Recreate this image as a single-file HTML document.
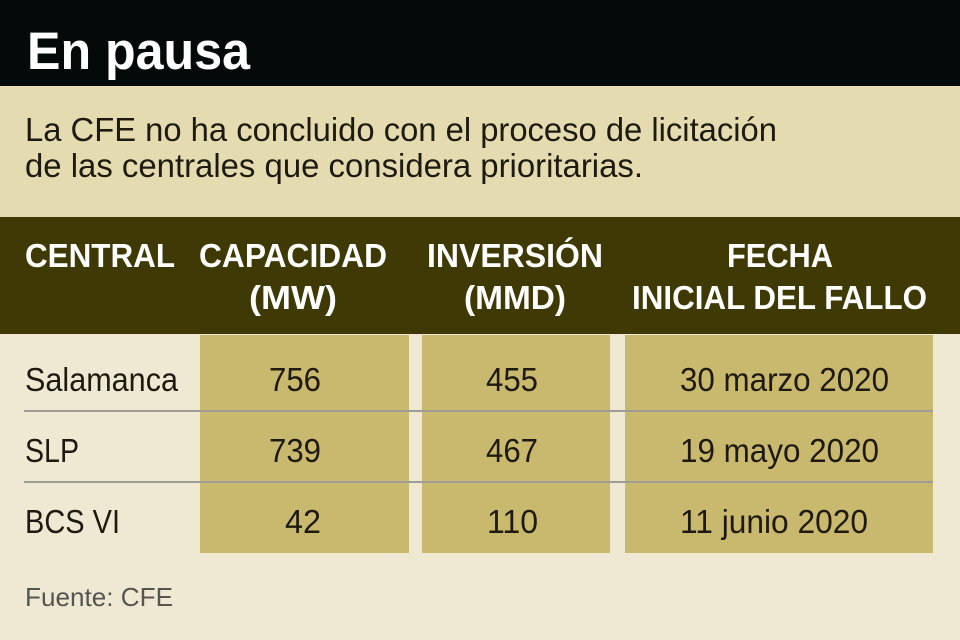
<!DOCTYPE html>
<html><head><meta charset="utf-8"><style>html,body{margin:0;padding:0;width:960px;height:640px;overflow:hidden;background:#efe9d4}</style></head>
<body>
<svg width="960" height="640" xmlns="http://www.w3.org/2000/svg" font-family="Liberation Sans, sans-serif">
<rect x="0" y="0" width="960" height="640" fill="#efe9d4"/>
<rect x="0" y="0" width="960" height="86" fill="#040a0a"/>
<rect x="0" y="86" width="960" height="131" fill="#e4dcb0"/>
<rect x="0" y="217" width="960" height="117" fill="#3f3a05"/>
<text x="27" y="69" font-size="53" font-weight="bold" fill="#fff" textLength="223" lengthAdjust="spacingAndGlyphs">En pausa</text>
<g fill="#1e1a10" font-size="33">
<text x="25" y="141" textLength="752" lengthAdjust="spacingAndGlyphs">La CFE no ha concluido con el proceso de licitación</text>
<text x="25" y="177" textLength="618" lengthAdjust="spacingAndGlyphs">de las centrales que considera prioritarias.</text>
</g>
<g fill="#fff" font-size="33" font-weight="bold">
<text x="25" y="267" textLength="150" lengthAdjust="spacingAndGlyphs">CENTRAL</text>
<text x="199" y="267" textLength="188" lengthAdjust="spacingAndGlyphs">CAPACIDAD</text>
<text x="249" y="309" textLength="88" lengthAdjust="spacingAndGlyphs">(MW)</text>
<text x="427" y="267" textLength="176" lengthAdjust="spacingAndGlyphs">INVERSIÓN</text>
<text x="464" y="309" textLength="102" lengthAdjust="spacingAndGlyphs">(MMD)</text>
<text x="727" y="267" textLength="106" lengthAdjust="spacingAndGlyphs">FECHA</text>
<text x="632" y="309" textLength="295" lengthAdjust="spacingAndGlyphs">INICIAL DEL FALLO</text>
</g>
<rect x="200" y="335" width="209" height="218" fill="#c9b96e"/>
<rect x="422" y="335" width="188" height="218" fill="#c9b96e"/>
<rect x="625" y="335" width="308" height="218" fill="#c9b96e"/>
<rect x="24" y="410" width="909" height="2" fill="#9d9d96"/>
<rect x="24" y="481" width="909" height="2" fill="#9d9d96"/>
<g fill="#1e1a10" font-size="33">
<text x="25" y="391" textLength="153" lengthAdjust="spacingAndGlyphs">Salamanca</text>
<text x="25" y="462" textLength="54" lengthAdjust="spacingAndGlyphs">SLP</text>
<text x="25" y="533" textLength="95" lengthAdjust="spacingAndGlyphs">BCS VI</text>
<text x="269" y="391" textLength="52" lengthAdjust="spacingAndGlyphs">756</text>
<text x="269" y="462" textLength="52" lengthAdjust="spacingAndGlyphs">739</text>
<text x="285" y="533" textLength="36" lengthAdjust="spacingAndGlyphs">42</text>
<text x="486" y="391" textLength="52" lengthAdjust="spacingAndGlyphs">455</text>
<text x="486" y="462" textLength="52" lengthAdjust="spacingAndGlyphs">467</text>
<text x="487" y="533" textLength="51" lengthAdjust="spacingAndGlyphs">110</text>
<text x="680" y="391" textLength="209" lengthAdjust="spacingAndGlyphs">30 marzo 2020</text>
<text x="680" y="462" textLength="199" lengthAdjust="spacingAndGlyphs">19 mayo 2020</text>
<text x="680" y="533" textLength="188" lengthAdjust="spacingAndGlyphs">11 junio 2020</text>
</g>
<text x="25" y="606" font-size="26" fill="#555550" textLength="148" lengthAdjust="spacingAndGlyphs">Fuente: CFE</text>
</svg>
</body></html>
